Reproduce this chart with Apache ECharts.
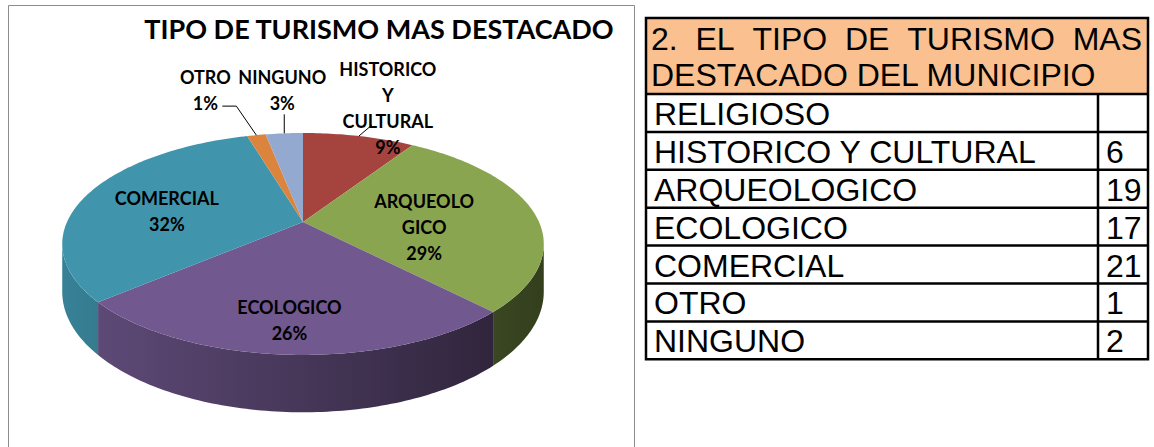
<!DOCTYPE html>
<html>
<head>
<meta charset="utf-8">
<script src="https://cdn.jsdelivr.net/npm/echarts@6/dist/echarts.min.js"></script>
<style>
html, body { margin: 0; padding: 0; background: #fff; }
#main { width: 1154px; height: 447px; }
</style>
</head>
<body>
<div id="main"></div>
<script>
// datos
var chartTitle = 'TIPO DE TURISMO MAS DESTACADO';
var tableTitle = ['2. EL TIPO DE TURISMO MAS', 'DESTACADO DEL MUNICIPIO'];
var categories = ['RELIGIOSO', 'HISTORICO Y CULTURAL', 'ARQUEOLOGICO', 'ECOLOGICO', 'COMERCIAL', 'OTRO', 'NINGUNO'];
var counts = [null, 6, 19, 17, 21, 1, 2];
var pieLabels = ['RELIGIOSO', 'HISTORICO\nY\nCULTURAL', 'ARQUEOLO\nGICO', 'ECOLOGICO', 'COMERCIAL', 'OTRO', 'NINGUNO'];
var colors = ['#4F81BD', '#A5433F', '#8AA54F', '#71588F', '#4095AD', '#DB843D', '#94A9CF'];

// solo los que tienen valor van al pastel
var pieIdx = [];
counts.forEach(function (v, i) { if (v) pieIdx.push(i); });
var pieValues = pieIdx.map(function (i) { return counts[i]; });
var total = pieValues.reduce(function (a, b) { return a + b; }, 0);

// porcentajes redondeados que suman 100
var pct = (function () {
  var raw = pieValues.map(function (v) { return v / total * 100; });
  var fl = raw.map(Math.floor);
  var left = 100 - fl.reduce(function (a, b) { return a + b; }, 0);
  var order = raw.map(function (r, i) { return i; }).sort(function (a, b) {
    return (raw[b] - fl[b]) - (raw[a] - fl[a]);
  });
  for (var j = 0; j < left; j++) fl[order[j]]++;
  return fl;
})();

var startA = [], endA = [];
(function () {
  var acc = 0;
  pieValues.forEach(function (v, i) {
    startA[i] = acc / total * Math.PI * 2;
    acc += v;
    endA[i] = acc / total * Math.PI * 2;
  });
})();

// geometria del pastel 3d
var cx = 303, cy = 222, rx = 236, ry = 106.6, k = 0.198, depth = 46;
var thR = Math.acos(-k), thL = Math.PI * 2 - thR;

function scaleAt(th, r) { return 1 / (1 + k * r * Math.cos(th)); }
function proj(th, r) {
  var s = scaleAt(th, r);
  return [cx + rx * r * Math.sin(th) * s, cy - ry * r * Math.cos(th) * s];
}
function shade(hex, f) {
  var n = parseInt(hex.slice(1), 16);
  var r = Math.round(((n >> 16) & 255) * f), g = Math.round(((n >> 8) & 255) * f), b = Math.round((n & 255) * f);
  return 'rgb(' + r + ',' + g + ',' + b + ')';
}

// donde van las etiquetas (desplazamiento desde el punto del angulo medio)
var labelLayout = {
  'HISTORICO Y CULTURAL': { out: true, dx: 29, dy: -28, leader: [[0, 0], [13, -11]] },
  'ARQUEOLOGICO': { dx: -32, dy: 12 },
  'ECOLOGICO': { dx: -5, dy: 17 },
  'COMERCIAL': { dx: 8, dy: 8 },
  'OTRO': { out: true, dx: -51, dy: -45, leader: [[0, 0], [-20, -29], [-34, -29]] },
  'NINGUNO': { out: true, dx: -2, dy: -43, leader: [[0, 0], [0, -19]] }
};

function renderSlice(params, api) {
  var i = params.dataIndex;
  var ci = pieIdx[i];
  var a0 = startA[i], a1 = endA[i];
  var col = colors[ci];
  var step = Math.PI / 180;
  var children = [];

  var top = [[cx, cy]];
  var n = Math.max(2, Math.ceil((a1 - a0) / step));
  for (var j = 0; j <= n; j++) top.push(proj(a0 + (a1 - a0) * j / n, 1));
  children.push({ type: 'polygon', z2: 10, shape: { points: top }, style: { fill: col } });

  var w0 = Math.max(a0, thR), w1 = Math.min(a1, thL);
  if (w1 > w0) {
    var m = Math.max(2, Math.ceil((w1 - w0) / step));
    var upper = [], lower = [];
    for (var q = 0; q <= m; q++) {
      var th = w0 + (w1 - w0) * q / m;
      var p = proj(th, 1);
      upper.push(p);
      lower.unshift([p[0], p[1] + depth * scaleAt(th, 1)]);
    }
    children.push({
      type: 'polygon', z2: 5,
      shape: { points: upper.concat(lower) },
      style: {
        fill: new echarts.graphic.LinearGradient(cx - rx, 0, cx + rx, 0, [
          { offset: 0, color: shade(col, 0.86) },
          { offset: 1, color: shade(col, 0.38) }
        ], true)
      }
    });
  }

  var lay = labelLayout[categories[ci]];
  if (lay) {
    var mid = (a0 + a1) / 2;
    var anchor = proj(mid, lay.out ? 1 : 0.66);
    if (lay.leader) {
      children.push({
        type: 'polyline', z2: 20,
        shape: { points: lay.leader.map(function (d) { return [anchor[0] + d[0], anchor[1] + d[1]]; }) },
        style: { stroke: '#000', lineWidth: 1, fill: null }
      });
    }
    children.push({
      type: 'text', z2: 30,
      style: {
        text: pieLabels[ci] + '\n' + pct[i] + '%',
        x: anchor[0] + lay.dx, y: anchor[1] + lay.dy,
        align: 'center', verticalAlign: 'middle',
        fontFamily: 'Lato', fontWeight: 'bold', fontSize: 18, lineHeight: 26,
        fill: '#000'
      }
    });
  }
  return { type: 'group', children: children };
}

// tabla
var tbl = { left: 646, right: 1148, top: 18, headH: 76, rowH: 37.9, split: 1098 };
var tblFont = '32px "Liberation Sans"';
var ctx = document.createElement('canvas').getContext('2d');
ctx.font = tblFont;

function tableGraphics() {
  var g = [];
  var bottom = tbl.top + tbl.headH + tbl.rowH * categories.length;
  g.push({ type: 'rect', shape: { x: tbl.left, y: tbl.top, width: tbl.right - tbl.left, height: tbl.headH }, style: { fill: '#FAC090' } });

  // primera linea justificada
  var words = tableTitle[0].split(' ');
  var widths = words.map(function (w) { return ctx.measureText(w).width; });
  var sumW = widths.reduce(function (a, b) { return a + b; }, 0);
  var x0 = tbl.left + 5, x1 = tbl.right - 6;
  var gap = (x1 - x0 - sumW) / (words.length - 1);
  var xx = x0;
  words.forEach(function (w, i) {
    g.push({ type: 'text', style: { text: w, x: xx, y: tbl.top + 21, font: tblFont, fill: '#000', verticalAlign: 'middle' } });
    xx += widths[i] + gap;
  });
  g.push({ type: 'text', style: { text: tableTitle[1], x: x0, y: tbl.top + 57, font: tblFont, fill: '#000', verticalAlign: 'middle' } });

  categories.forEach(function (c, i) {
    var y = tbl.top + tbl.headH + tbl.rowH * i;
    g.push({ type: 'text', style: { text: c, x: tbl.left + 8, y: y + tbl.rowH / 2 + 1, font: tblFont, fill: '#000', verticalAlign: 'middle' } });
    if (counts[i] != null) {
      g.push({ type: 'text', style: { text: String(counts[i]), x: tbl.split + 8, y: y + tbl.rowH / 2 + 1, font: tblFont, fill: '#000', verticalAlign: 'middle' } });
    }
    g.push({ type: 'line', shape: { x1: tbl.left, y1: y, x2: tbl.right, y2: y }, style: { stroke: '#000', lineWidth: 2.5 } });
  });
  g.push({ type: 'line', shape: { x1: tbl.split, y1: tbl.top + tbl.headH, x2: tbl.split, y2: bottom }, style: { stroke: '#000', lineWidth: 2.5 } });
  g.push({ type: 'rect', shape: { x: tbl.left, y: tbl.top, width: tbl.right - tbl.left, height: bottom - tbl.top }, style: { fill: null, stroke: '#000', lineWidth: 2.5 } });
  return g;
}

var myChart = echarts.init(document.getElementById('main'), null, { renderer: 'svg' });
var option = {
  animation: false,
  title: {
    text: chartTitle,
    left: 374, top: 10, textAlign: 'center',
    textStyle: { fontFamily: 'Lato', fontWeight: 'bold', fontSize: 27, color: '#000' }
  },
  graphic: [
    { type: 'rect', shape: { x: 8.5, y: 5.5, width: 626, height: 460 }, style: { fill: null, stroke: '#8c8c8c', lineWidth: 1 } }
  ].concat(tableGraphics()),
  series: [{
    type: 'custom',
    coordinateSystem: 'none',
    silent: true,
    renderItem: renderSlice,
    data: pieValues.map(function (v) { return [v]; })
  }]
};
option && myChart.setOption(option);
</script>
</body>
</html>
